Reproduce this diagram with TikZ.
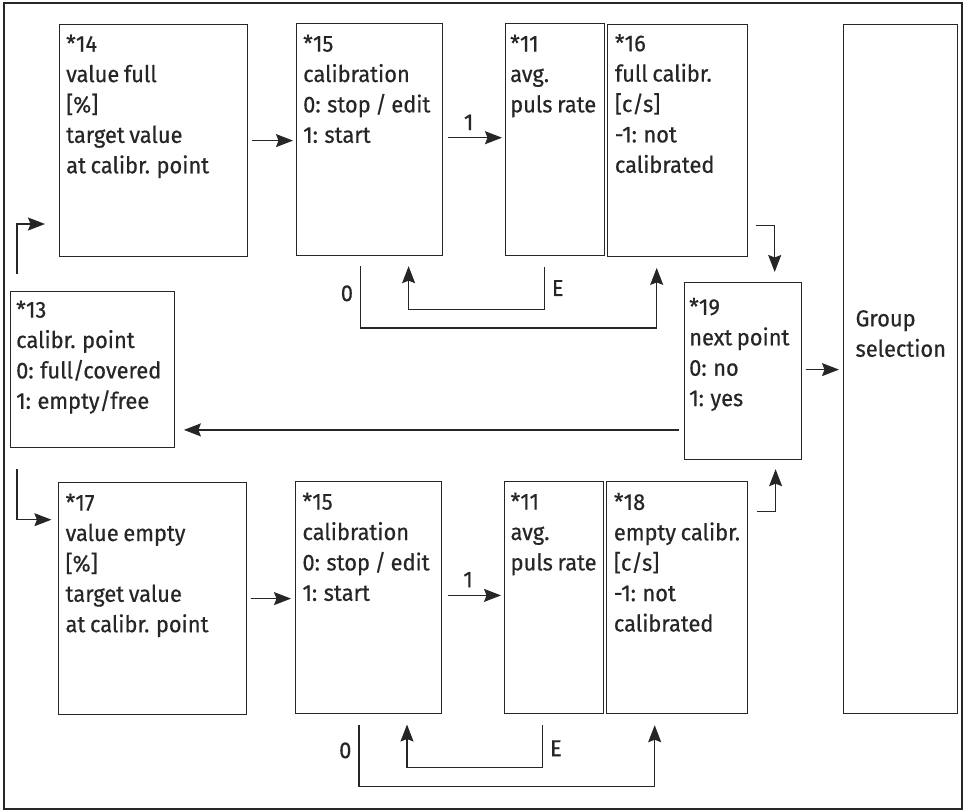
\documentclass[tikz,border=0pt]{standalone}
\usepackage{fontspec}
\setmainfont{Fira Sans}[FakeStretch=0.95, WordSpace=0.8, FakeBold=0.5]
\usetikzlibrary{arrows.meta,calc}
\definecolor{ink}{HTML}{262626}
\tikzset{
  box/.style={draw=ink, line width=1.2pt, rectangle, inner sep=0pt, anchor=north west},
  txt/.style={anchor=north west, inner sep=0pt, align=left, text=ink,
              font=\fontsize{23}{30.4}\selectfont},
  lbl/.style={inner sep=0pt, text=ink, font=\fontsize{23}{25}\selectfont},
  con/.style={draw=ink, line width=1.2pt},
  arr/.style={con, -{Stealth[length=17pt, width=13pt, inset=2.5pt]}},
}
\begin{document}
\begin{tikzpicture}[x=1pt, y=-1pt]
\useasboundingbox (0,0) rectangle (967,811);
\draw[ink, line width=1.4pt] (4,3) rectangle (962,809);

% boxes
\node[box, minimum width=188pt, minimum height=232pt] (b14) at (59,24) {};
\node[box, minimum width=146pt, minimum height=232pt] (b15a) at (296,23) {};
\node[box, minimum width=99pt,  minimum height=232pt] (b11a) at (505,23) {};
\node[box, minimum width=140pt, minimum height=232pt] (b16) at (607,24) {};
\node[box, minimum width=117pt, minimum height=177pt] (b19) at (684,282) {};
\node[box, minimum width=114pt, minimum height=689pt] (bG) at (843,24) {};
\node[box, minimum width=164pt, minimum height=156pt] (b13) at (10,291) {};
\node[box, minimum width=188pt, minimum height=232pt] (b17) at (58,482) {};
\node[box, minimum width=146pt, minimum height=232pt] (b15b) at (295,481) {};
\node[box, minimum width=99pt,  minimum height=232pt] (b11b) at (504,481) {};
\node[box, minimum width=141pt, minimum height=232pt] (b18) at (606,481) {};

% texts
\node[txt] (t14) at ($(b14.north west)+(7,10.5)$) {*14\\value full\\{[\%]}\\target value\\at calibr. point};
\node[txt] (t15a) at ($(b15a.north west)+(7,11.4)$) {*15\\calibration\\0: stop / edit\\1: start};
\node[txt] (t11a) at ($(b11a.north west)+(5,11.4)$) {*11\\avg.\\puls rate};
\node[txt] (t16) at ($(b16.north west)+(7.7,10)$) {*16\\full calibr.\\{[c/s]}\\-1: not\\calibrated};
\node[txt] (t19) at ($(b19.north west)+(5,15.7)$) {*19\\next point\\0: no\\1: yes};
\node[txt] (tG) at ($(bG.north west)+(12.4,286)$) {Group\\selection};
\node[txt] (t13) at ($(b13.north west)+(6,9.4)$) {*13\\calibr. point\\0: full/covered\\1: empty/free};
\node[txt] (t17) at ($(b17.north west)+(7.4,11.4)$) {*17\\value empty\\{[\%]}\\target value\\at calibr. point};
\node[txt] (t15b) at ($(b15b.north west)+(7.3,11.4)$) {*15\\calibration\\0: stop / edit\\1: start};
\node[txt] (t11b) at ($(b11b.north west)+(6.4,11.4)$) {*11\\avg.\\puls rate};
\node[txt] (t18) at ($(b18.north west)+(7.7,11.7)$) {*18\\empty calibr.\\{[c/s]}\\-1: not\\calibrated};

% ---- upper branch
\draw[arr] ($(b13.north west)+(7,-17)$) |- ($(b14.north west)+(-14,200)$);
\draw[arr] ($(b14.east)+(4,0)$) -- ($(b14.east -| b15a.west)+(-3,0)$);
\draw[arr] ($(b15a.north east)+(5,114.7)$) -- node[lbl, anchor=south, pos=0.38, yshift=7pt] (one1) {1} ($(b11a.north west)+(-3,114.7)$);
\draw[arr] ($(b15a.south west)+(64.6,10)$) -- ++(0,61.7) node[lbl, anchor=east, pos=0.44, xshift=-7pt] (zero1) {0}
  -| ($(b16.south west)+(49.7,10.7)$);
\draw[arr] ($(b11a.south west)+(39.3,10.7)$) -- ++(0,42.3) node[lbl, anchor=west, pos=0.5, xshift=7pt] (e1) {E}
  -| ($(b15a.south west)+(112.6,10)$);
\draw[arr] ($(b16.south east)+(7.3,-32)$) -| ($(b19.north west)+(90.7,-10)$);

% ---- middle
\draw[arr] ($(b19.east)+(3.3,-1.5)$) -- ($(b19.east -| bG.west)+(-4,-1.5)$);
\draw[arr] ($(b19.south west)+(-4.7,-30.3)$) -- ($(b19.south west -| b13.east)+(8.7,-30.3)$);

% ---- lower branch
\draw[arr] ($(b13.south west)+(7,21)$) |- ($(b17.north west)+(-6.6,37.7)$);
\draw[arr] ($(b17.east)+(3.3,0)$) -- ($(b17.east -| b15b.west)+(-4,0)$);
\draw[arr] ($(b15b.north east)+(5.7,114.4)$) -- node[lbl, anchor=south, pos=0.38, yshift=7.4pt] (one2) {1} ($(b11b.north west)+(-3,114.4)$);
\draw[arr] ($(b15b.south west)+(64,10.3)$) -- ++(0,61.7) node[lbl, anchor=east, pos=0.42, xshift=-7pt] (zero2) {0}
  -| ($(b18.south west)+(48.7,11)$);
\draw[arr] ($(b11b.south west)+(38.4,10.6)$) -- ++(0,42.7) node[lbl, anchor=west, pos=0.55, xshift=7pt] (e2) {E}
  -| ($(b15b.south west)+(112,10.3)$);
\draw[arr] ($(b18.north east)+(8.3,30.7)$) -| ($(b19.south west)+(91.6,9)$);
\end{tikzpicture}
\end{document}
